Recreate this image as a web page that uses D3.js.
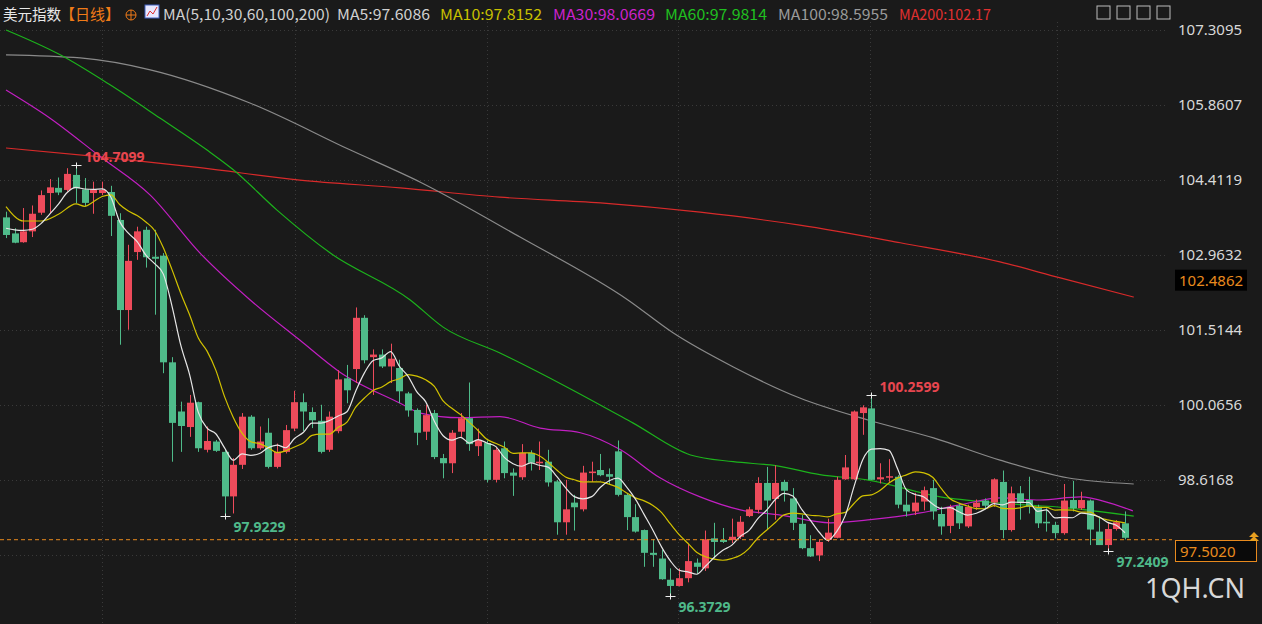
<!DOCTYPE html>
<html><head><meta charset="utf-8">
<script src="https://cdn.jsdelivr.net/npm/d3@7"></script>
<style>body{margin:0;background:#1a1a1a;}svg{display:block;font-family:"Noto Sans CJK SC","Noto Sans",sans-serif;}</style>
</head><body><svg id="c" width="1262" height="624"></svg>
<script>
const opens=[103.69,103.38,103.21,103.42,103.78,104.16,104.26,104.22,104.51,104.23,104.16,104.16,104.18,103.64,101.90,103.02,103.45,102.93,102.95,100.89,99.94,99.64,100.12,99.20,99.36,99.16,98.30,98.91,99.84,99.23,99.53,98.87,99.16,99.61,100.12,99.93,99.76,99.20,99.56,100.58,100.76,101.75,100.99,101.04,100.81,100.78,100.29,99.97,99.55,99.91,99.04,98.94,99.55,99.81,99.27,99.33,98.62,99.23,98.76,98.67,99.14,98.94,98.97,98.59,97.80,98.18,98.05,98.75,98.81,98.73,99.17,98.33,97.90,97.65,97.21,97.10,96.69,96.57,96.72,97.02,96.91,97.49,97.46,97.46,97.52,97.92,98.04,98.56,98.25,98.58,98.26,97.77,97.30,97.16,97.46,97.50,98.63,98.63,99.91,100.00,98.63,98.67,98.68,98.14,98.01,98.20,98.46,97.96,97.73,98.12,97.72,98.09,98.22,98.18,98.58,97.65,98.36,98.23,98.10,97.81,97.75,97.59,98.23,98.07,98.22,97.62,97.36,97.67,97.78];
const highs=[103.80,103.48,103.87,103.92,104.21,104.43,104.46,104.64,104.71,104.45,104.38,104.38,104.30,103.77,103.16,103.51,103.51,103.45,103.00,100.99,100.13,100.26,100.13,99.65,99.39,99.20,99.04,99.91,99.87,99.65,99.81,99.32,99.68,100.34,100.29,100.02,100.07,99.94,100.74,100.84,101.95,101.80,101.14,101.14,101.25,100.94,100.32,100.00,100.07,99.97,99.12,99.58,99.91,100.50,99.61,99.38,99.25,99.36,98.84,99.31,99.19,99.36,99.20,98.62,98.62,98.33,98.89,98.97,99.12,98.84,99.38,98.36,98.15,97.66,97.47,97.27,96.91,96.91,97.38,97.10,97.64,97.79,97.69,97.87,97.92,98.10,98.67,98.87,98.90,98.62,98.46,97.94,97.55,97.46,97.87,98.68,99.10,99.96,100.06,100.26,98.94,99.02,98.71,98.42,98.37,98.49,98.62,98.10,98.14,98.15,98.14,98.24,98.26,98.65,98.80,98.49,98.50,98.68,98.14,98.07,97.81,98.54,98.60,98.39,98.24,97.91,97.78,97.84,98.01];
const lows=[103.29,103.19,103.20,103.31,103.74,103.77,104.12,104.19,103.96,103.90,103.76,104.12,103.33,101.23,101.52,102.87,102.72,101.81,100.68,98.97,99.16,99.45,99.16,99.15,99.16,97.92,97.97,98.83,99.20,99.20,98.84,98.84,99.13,99.56,99.56,99.62,99.13,99.16,99.52,100.10,100.49,100.87,100.26,100.78,100.49,100.10,99.84,99.29,99.39,99.02,98.65,98.75,99.45,99.18,99.08,98.57,98.57,98.65,98.31,98.62,98.80,98.81,98.49,97.56,97.56,97.64,98.01,98.58,98.69,98.52,98.30,97.65,97.60,96.94,96.94,96.69,96.37,96.56,96.64,96.81,96.86,97.10,97.40,97.40,97.48,97.90,97.97,97.67,97.85,98.20,97.65,97.28,97.13,97.05,97.42,97.49,98.62,98.62,99.49,98.62,98.55,98.58,98.07,97.91,97.94,98.03,97.85,97.56,97.59,97.67,97.69,98.04,98.07,98.10,97.49,97.62,97.85,97.97,97.69,97.62,97.49,97.56,98.01,98.04,97.36,97.36,97.24,97.64,97.47];
const closes=[103.35,103.20,103.42,103.76,104.12,104.27,104.17,104.53,104.25,103.97,104.23,104.22,103.72,101.90,102.85,103.42,102.92,102.89,100.89,99.72,99.66,100.11,99.23,99.37,99.18,98.30,98.91,99.84,99.23,99.36,98.87,99.16,99.58,100.12,99.94,99.77,99.16,99.84,100.56,100.35,101.75,100.93,101.04,100.81,100.96,100.33,99.96,99.53,99.87,99.06,98.94,99.53,99.81,99.31,99.39,98.62,99.20,98.75,98.70,99.14,98.95,98.97,98.57,97.80,98.05,98.09,98.76,98.78,98.71,98.68,98.33,97.90,97.62,97.21,97.17,96.70,96.57,96.72,97.05,96.94,97.47,97.42,97.42,97.52,97.81,98.05,98.56,98.22,98.56,98.41,97.79,97.30,97.14,97.42,97.60,98.62,98.86,99.94,100.02,98.62,98.67,98.69,98.14,98.01,98.18,98.42,98.01,97.72,98.09,97.78,98.10,98.18,98.12,98.63,97.65,98.36,98.17,98.10,97.78,97.78,97.59,98.22,98.07,98.23,97.66,97.36,97.67,97.80,97.50];
const ma5Head=[[0,103.48],[1,103.45],[2,103.44],[3,103.46]];
const ma10Head=[[0,103.90],[2,103.62],[4,103.62],[6,103.75],[8,103.95]];
const ma30Idx=[0,5,10.8,16.5,22.2,27.9,33.6,38.2,45.1,47.4,52,56.5,61.1,65.7,70.3,74.8,79.4,84,88.6,94.3,98.9,104.6,109.2,113.8,118.3,122.9,126.3,128.9];
const ma30Val=[106.15,105.61,104.86,104.12,103.00,102.10,101.32,100.70,100.10,99.91,99.82,99.84,99.62,99.53,99.20,98.66,98.29,98.04,97.94,97.79,97.85,97.98,98.14,98.27,98.23,98.29,98.17,98.02];
const ma60Idx=[0,6.2,11.9,17.6,23,26,31,37.1,46.2,50,56.5,64.2,71.7,78.3,83.2,88.2,93.1,98.5,106.9,113.7,121.4,129];
const ma60Val=[107.31,106.83,106.25,105.61,104.99,104.61,103.83,103.00,102.10,101.57,101.07,100.41,99.72,99.10,98.97,98.89,98.72,98.62,98.29,98.17,98.08,97.92];
const ma100Idx=[0,8.5,16.5,27.9,39.4,47.4,58.8,71.1,76.3,83.2,90.8,98.5,106.1,113.7,121.4,129];
const ma100Val=[106.83,106.77,106.54,105.90,104.99,104.37,103.31,102.10,101.46,100.80,100.20,99.78,99.43,99.00,98.66,98.54];
const ma200Idx=[0,10.8,22.2,33.6,45.1,56.5,68,79.4,90.8,102.3,113.7,120.6,129];
const ma200Val=[105.03,104.86,104.65,104.41,104.26,104.08,103.97,103.79,103.54,103.20,102.83,102.52,102.15];
const tickVals=[107.3095,105.8607,104.4119,102.9632,101.5144,100.0656,98.6168];
const lastPrice=97.5020, markPrice=102.4862;
const extremes=[{i:8,v:104.7099,t:"104.7099",c:"#e8464f",pos:"hi"},{i:25,v:97.9229,t:"97.9229",c:"#4fb98a",pos:"lo"},{i:76,v:96.3729,t:"96.3729",c:"#4fb98a",pos:"lo"},{i:99,v:100.2599,t:"100.2599",c:"#e8464f",pos:"hi"},{i:126,v:97.2409,t:"97.2409",c:"#4fb98a",pos:"lo"}];

const svg=d3.select("#c");
svg.append("rect").attr("width",1262).attr("height",624).attr("fill","#1a1a1a");
const x=d3.scaleLinear().domain([0,128]).range([6,1125]);
const y=d3.scaleLinear().domain([98.6168,100.0656]).range([480,405]);
const UP="#ee4b5b",DN="#4fbb8a";

const g=svg.append("g");
g.selectAll("line.h").data([...tickVals,97.168]).join("line").attr("x1",0).attr("x2",1165)
 .attr("y1",d=>Math.round(y(d))+0.5).attr("y2",d=>Math.round(y(d))+0.5).attr("stroke","#3a3a3a").attr("stroke-dasharray","1,3");
g.selectAll("line.v").data([102,295,487,678,870,1057]).join("line").attr("y1",22).attr("y2",624)
 .attr("x1",d=>d+0.5).attr("x2",d=>d+0.5).attr("stroke","#3a3a3a").attr("stroke-dasharray","1,3");

const ax=svg.append("g").attr("transform","translate(1170,0)").call(d3.axisRight(y).tickValues(tickVals).tickFormat(d3.format(".4f")).tickSize(0).tickPadding(8));
ax.select(".domain").remove();
ax.selectAll("text").attr("fill","#d8d8d8").attr("font-size",15).attr("font-family","Noto Sans");

const line=d3.line().x(d=>x(d[0])).y(d=>y(d[1])).curve(d3.curveMonotoneX);
function maFrom(idx,val){return idx.map((d,k)=>[d,val[k]]);}
function sma(n){const r=[];for(let i=n-1;i<closes.length;i++){r.push([i,d3.mean(closes.slice(i-n+1,i+1))]);}return r;}
const mas=[[maFrom(ma200Idx,ma200Val),"#d82a2a"],[maFrom(ma100Idx,ma100Val),"#8a8a8a"],[maFrom(ma60Idx,ma60Val),"#1cb21c"],[maFrom(ma30Idx,ma30Val),"#c21fc2"]];
mas.forEach(([d,c])=>svg.append("path").datum(d).attr("d",line).attr("fill","none").attr("stroke",c).attr("stroke-width",1.2));

const cg=svg.append("g");
const data=opens.map((o,i)=>({i,o,h:highs[i],l:lows[i],c:closes[i]}));
cg.selectAll("line").data(data).join("line").attr("x1",d=>Math.round(x(d.i))+0.5).attr("x2",d=>Math.round(x(d.i))+0.5)
 .attr("y1",d=>y(d.h)).attr("y2",d=>y(d.l)).attr("stroke",d=>d.c>=d.o?UP:DN).attr("stroke-width",1);
cg.selectAll("rect").data(data).join("rect").attr("x",d=>Math.round(x(d.i))-3).attr("width",7)
 .attr("y",d=>y(Math.max(d.o,d.c))).attr("height",d=>Math.max(1.5,Math.abs(y(d.o)-y(d.c))))
 .attr("fill",d=>d.c>=d.o?UP:DN);

svg.append("path").datum([...ma10Head,...sma(10)]).attr("d",line).attr("fill","none").attr("stroke","#d2c200").attr("stroke-width",1.2);
svg.append("path").datum([...ma5Head,...sma(5)]).attr("d",line).attr("fill","none").attr("stroke","#e6e6e6").attr("stroke-width",1.2);

extremes.forEach(e=>{
 const px=Math.round(x(e.i))+0.5, py=Math.round(y(e.v))+0.5;
 svg.append("line").attr("x1",px-5).attr("x2",px+5).attr("y1",py).attr("y2",py).attr("stroke","#eee");
 svg.append("line").attr("x1",px).attr("x2",px).attr("y1",py-3).attr("y2",py+3).attr("stroke","#eee");
 svg.append("text").attr("x",px+8).attr("y",e.pos==="hi"?py-4:py+15).attr("fill",e.c).attr("font-size",14).attr("font-weight","bold").attr("font-family","Noto Sans").text(e.t);
});

svg.append("line").attr("x1",0).attr("x2",1172).attr("y1",y(lastPrice)+2).attr("y2",y(lastPrice)+2).attr("stroke","#e88a1e").attr("stroke-dasharray","4,3");
svg.append("rect").attr("x",1175.5).attr("y",540.5).attr("width",81).attr("height",21).attr("fill","#0a0a0a").attr("stroke","#e88a1e");
svg.append("text").attr("x",1180).attr("y",557).attr("fill","#e88a1e").attr("font-size",15).attr("font-family","Noto Sans").text(lastPrice.toFixed(4));
svg.append("rect").attr("x",1175).attr("y",y(markPrice)-10).attr("width",72).attr("height",21).attr("fill","#000");
svg.append("text").attr("x",1179).attr("y",y(markPrice)+6).attr("fill","#e88a1e").attr("font-size",15).attr("font-family","Noto Sans").text(markPrice.toFixed(4));
svg.append("path").attr("d","M1249,537 l5,-5 l5,5 Z M1249,541 l5,-5 l5,5 Z").attr("fill","#e8a020");

const hdr=[["美元指数",3,"#e8e8e8",58],["【日线】",60,"#f07b18",60],["MA(5,10,30,60,100,200)",163,"#d0d0d0",167],["MA5:97.6086",337,"#d0d0d0",93],["MA10:97.8152",440,"#c8c000",102],["MA30:98.0669",553,"#cc22cc",102],["MA60:97.9814",665,"#20c020",102],["MA100:98.5955",778,"#9a9a9a",110],["MA200:102.17",899,"#e03030",92]];
hdr.forEach(([t,xx,c,w])=>svg.append("text").attr("x",xx).attr("y",20).attr("fill",c).attr("font-size",15).attr("textLength",w).attr("lengthAdjust","spacingAndGlyphs").text(t));
svg.append("circle").attr("cx",131).attr("cy",15).attr("r",5).attr("fill","none").attr("stroke","#f07b18");
svg.append("path").attr("d","M126,15 h10 M131,10 v10").attr("stroke","#f07b18");
svg.append("rect").attr("x",145).attr("y",5).attr("width",14).attr("height",13).attr("fill","#e8e8ff").attr("stroke","#4060c0");
svg.append("path").attr("d","M147,16 l3,-5 l3,3 l4,-7").attr("stroke","#e03030").attr("fill","none");
[1097,1117,1137,1157].forEach(xx=>svg.append("rect").attr("x",xx).attr("y",6).attr("width",13).attr("height",13).attr("fill","none").attr("stroke","#bbb"));
svg.append("text").attr("x",1245).attr("y",598).attr("text-anchor","end").attr("fill","#d8d8d8").attr("font-size",27).attr("font-family","Noto Sans").text("1QH.CN");
</script></body></html>
